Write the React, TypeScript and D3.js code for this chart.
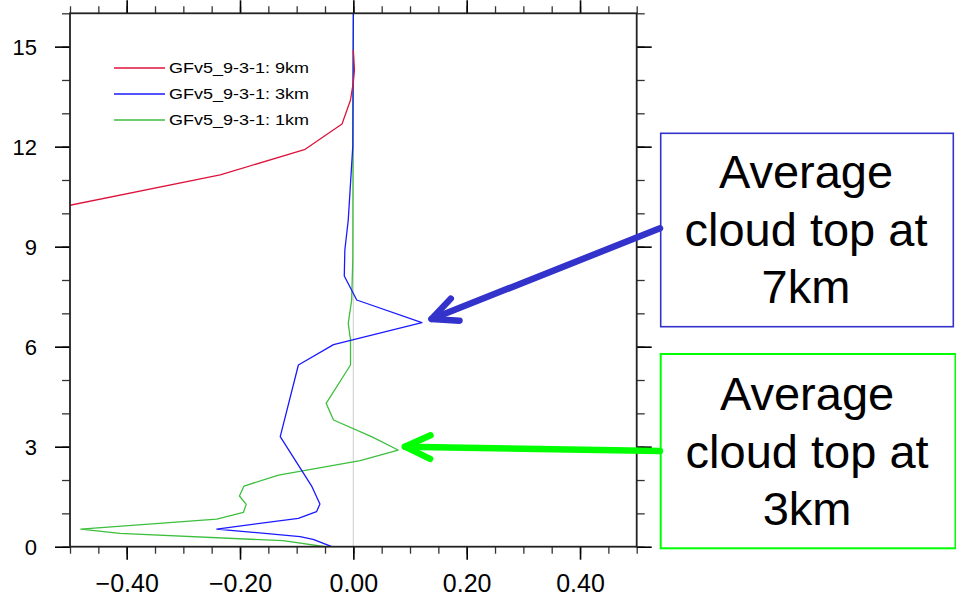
import React, { useEffect, useRef } from "react";
import * as d3 from "d3";

// vertical profiles: height (km) vs value
const red9kmHeights = [9.9, 11.15, 11.92, 12.68, 13.4, 13.94, 14.3, 14.9];
const red9kmValues = [-0.6, -0.235, -0.085, -0.02, -0.005, 0.0, 0.002, 0.0];

const blue3kmHeights = [0, 0.22, 0.3, 0.53, 0.85, 1.05, 1.28, 1.8, 3.3, 5.45, 6.06, 6.72, 7.4, 8.12, 8.9, 9.8, 12.0, 16];
const blue3kmValues = [-0.038, -0.071, -0.094, -0.241, -0.097, -0.065, -0.059, -0.073, -0.129, -0.097, -0.035, 0.121, 0.006, -0.016, -0.015, -0.009, -0.001, 0];

const green1kmHeights = [0, 0.18, 0.4, 0.53, 0.83, 1.03, 1.27, 1.52, 1.82, 2.15, 2.58, 2.9, 3.3, 3.8, 4.3, 5.45, 6.2, 6.7, 7.4, 8.6, 16];
const green1kmValues = [-0.05, -0.124, -0.412, -0.481, -0.241, -0.194, -0.189, -0.201, -0.193, -0.132, 0.012, 0.079, 0.032, -0.035, -0.048, -0.005, -0.005, -0.009, -0.003, -0.001, 0];

const seriesNames = ["GFv5_9-3-1: 9km", "GFv5_9-3-1: 3km", "GFv5_9-3-1: 1km"];
const xTickValues = [-0.4, -0.2, 0.0, 0.2, 0.4];
const yTickValues = [0, 3, 6, 9, 12, 15];

const annotationLines = [
  ["Average", "cloud top at", "7km"],
  ["Average", "cloud top at", "3km"],
];
// arrow tips in data units (value, height)
const annotationTips = [
  [0.138, 6.83],
  [0.091, 3.0],
];

const W = 956;
const H = 598;
const FONT = "'Liberation Sans', Arial, Helvetica, sans-serif";

const App = () => {
  const svgRef = useRef<SVGSVGElement | null>(null);

  useEffect(() => {
    const svg = d3.select(svgRef.current);
    svg.selectAll("*").remove();

    const left = 70, right = 636.7, top = 13.3, bottom = 546.7;

    const x = d3.scaleLinear().domain([-0.5, 0.5]).range([left, right]);
    const y = d3.scaleLinear().domain([0, 16]).range([bottom, top]);

    svg.append("defs")
      .append("clipPath")
      .attr("id", "plotclip")
      .append("rect")
      .attr("x", left)
      .attr("y", top)
      .attr("width", right - left)
      .attr("height", bottom - top);

    // zero reference line
    svg.append("line")
      .attr("x1", x(0)).attr("x2", x(0))
      .attr("y1", top).attr("y2", bottom)
      .attr("stroke", "#d4d4d4")
      .attr("stroke-width", 1.2);

    const series = [
      { h: red9kmHeights, v: red9kmValues, color: "#dc143c" },
      { h: blue3kmHeights, v: blue3kmValues, color: "#1a1aff" },
      { h: green1kmHeights, v: green1kmValues, color: "#3cbf3c" },
    ];

    const line = d3.line<[number, number]>()
      .x((d) => x(d[0]))
      .y((d) => y(d[1]));

    const g = svg.append("g").attr("clip-path", "url(#plotclip)");
    // draw green first so blue / red overlap like the original
    [2, 1, 0].forEach((i) => {
      const s = series[i];
      const pts: [number, number][] = s.h.map((hh, j) => [s.v[j], hh]);
      g.append("path")
        .attr("d", line(pts))
        .attr("fill", "none")
        .attr("stroke", s.color)
        .attr("stroke-width", 1.3)
        .attr("stroke-linejoin", "round");
    });

    // axes (ticks outward on all four sides)
    const xMinor = d3.range(-0.5, 0.5001, 0.05);
    const yMinor = d3.range(0, 16.001, 1);
    const tickCol = "#333";

    const bottomAxis = d3.axisBottom(x).tickValues(xTickValues).tickSize(13).tickFormat(d3.format(".2f"));
    const topAxis = d3.axisTop(x).tickValues(xTickValues).tickSize(13).tickFormat(() => "");
    const leftAxis = d3.axisLeft(y).tickValues(yTickValues).tickSize(15).tickFormat(d3.format("d"));
    const rightAxis = d3.axisRight(y).tickValues(yTickValues).tickSize(15).tickFormat(() => "");

    const minor = (axis: any, vals: number[], len: number) => axis.tickValues(vals).tickSize(len).tickFormat(() => "");

    const addAxis = (axis: any, tr: string) => {
      const a = svg.append("g").attr("transform", tr).call(axis);
      a.select(".domain").remove();
      a.selectAll("line").attr("stroke", tickCol).attr("stroke-width", 1.3);
      return a;
    };

    addAxis(minor(d3.axisBottom(x), xMinor, 7), `translate(0,${bottom})`);
    addAxis(minor(d3.axisTop(x), xMinor, 7), `translate(0,${top})`);
    addAxis(minor(d3.axisLeft(y), yMinor, 8), `translate(${left},0)`);
    addAxis(minor(d3.axisRight(y), yMinor, 8), `translate(${right},0)`);

    const bx = addAxis(bottomAxis, `translate(0,${bottom})`);
    bx.selectAll("line").attr("stroke", "#000").attr("stroke-width", 1.6);
    bx.selectAll("text")
      .attr("y", 28)
      .attr("dy", "0.71em")
      .attr("font-size", 25)
      .attr("font-family", FONT)
      .attr("fill", "#000");
    const tx = addAxis(topAxis, `translate(0,${top})`);
    tx.selectAll("line").attr("stroke", "#000").attr("stroke-width", 1.6);
    const ly = addAxis(leftAxis, `translate(${left},0)`);
    ly.selectAll("line").attr("stroke", "#000").attr("stroke-width", 1.6);
    ly.selectAll("text")
      .attr("x", -33)
      .attr("dy", "0.36em")
      .attr("font-size", 22)
      .attr("font-family", FONT)
      .attr("fill", "#000");
    const ry = addAxis(rightAxis, `translate(${right},0)`);
    ry.selectAll("line").attr("stroke", "#000").attr("stroke-width", 1.6);

    // frame
    svg.append("rect")
      .attr("x", left).attr("y", top)
      .attr("width", right - left).attr("height", bottom - top)
      .attr("fill", "none")
      .attr("stroke", "#222")
      .attr("stroke-width", 1.8);

    // legend
    const leg = svg.append("g").attr("transform", "translate(114,68)");
    seriesNames.forEach((name, i) => {
      const row = leg.append("g").attr("transform", `translate(0,${i * 26})`);
      row.append("line")
        .attr("x1", 0).attr("x2", 51)
        .attr("stroke", series[i].color)
        .attr("stroke-width", 1.3);
      row.append("text")
        .attr("x", 55)
        .attr("y", 5)
        .attr("font-size", 15.5)
        .attr("font-family", FONT)
        .attr("textLength", 140)
        .attr("lengthAdjust", "spacingAndGlyphs")
        .text(name);
    });

    // annotation boxes + arrows
    const boxes = [
      { x0: 660.7, y0: 133.3, x1: 953.3, y1: 326.7, color: "#3333cc", tail: [660, 228.3], sw: 1.6, base: 188 },
      { x0: 660.7, y0: 354, x1: 955.5, y1: 548.3, color: "#00ff00", tail: [660, 451], sw: 2, base: 410 },
    ];
    boxes.forEach((b, i) => {
      svg.append("rect")
        .attr("x", b.x0).attr("y", b.y0)
        .attr("width", b.x1 - b.x0).attr("height", b.y1 - b.y0)
        .attr("fill", "#fff")
        .attr("stroke", b.color)
        .attr("stroke-width", b.sw);
      annotationLines[i].forEach((t, k) => {
        svg.append("text")
          .attr("x", (b.x0 + b.x1) / 2 - 1)
          .attr("y", b.base + k * 57.5)
          .attr("text-anchor", "middle")
          .attr("font-size", 47)
          .attr("font-family", FONT)
          .attr("fill", "#000")
          .text(t);
      });

      const tipX = x(annotationTips[i][0]);
      const tipY = y(annotationTips[i][1]);
      const ang = Math.atan2(b.tail[1] - tipY, b.tail[0] - tipX);
      const barb = 28, spread = (25 * Math.PI) / 180;
      const arrow = svg.append("g")
        .attr("stroke", b.color)
        .attr("stroke-width", 6.5)
        .attr("stroke-linecap", "round")
        .attr("stroke-linejoin", "round")
        .attr("fill", "none");
      arrow.append("line")
        .attr("x1", b.tail[0]).attr("y1", b.tail[1])
        .attr("x2", tipX).attr("y2", tipY);
      arrow.append("path")
        .attr("d", `M${tipX + barb * Math.cos(ang - spread)},${tipY + barb * Math.sin(ang - spread)}L${tipX},${tipY}L${tipX + barb * Math.cos(ang + spread)},${tipY + barb * Math.sin(ang + spread)}`);
    });
  }, []);

  return (
    <div style={{ position: "absolute", left: 0, top: 0, width: W, height: H, background: "#fff" }}>
      <svg ref={svgRef} width={W} height={H} style={{ display: "block" }} />
    </div>
  );
};

export default App;
